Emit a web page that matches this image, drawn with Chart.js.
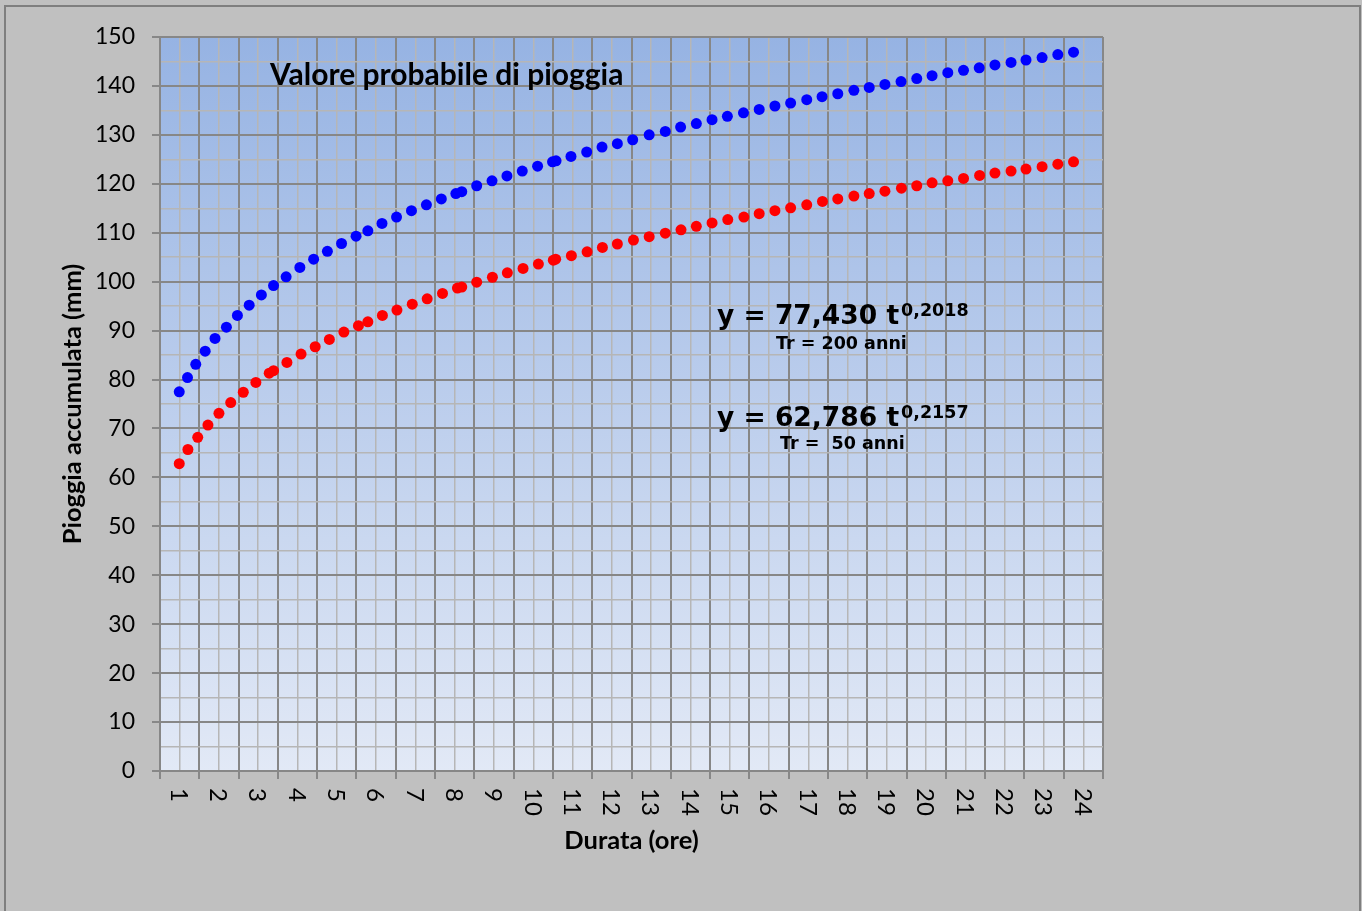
<!DOCTYPE html>
<html lang="it">
<head>
<meta charset="utf-8">
<title>Valore probabile di pioggia</title>
<script src="https://cdn.jsdelivr.net/npm/chart.js@4.4.1/dist/chart.umd.min.js"></script>
<style>
    html, body { margin: 0; padding: 0; background: #c0c0c0; }
    #wrap { width: 1367px; height: 911px; }
</style>
</head>
<body>
<div id="wrap"><canvas id="pioggiaChart" width="1367" height="911"></canvas></div>
<script>
const hourLabels = ["1", "2", "3", "4", "5", "6", "7", "8", "9", "10", "11", "12",
    "13", "14", "15", "16", "17", "18", "19", "20", "21", "22", "23", "24"];

// Tr = 200 anni
const blueHours = [0.99, 1.2, 1.41, 1.65, 1.9, 2.19, 2.47, 2.77, 3.08, 3.39, 3.71, 4.06, 4.41, 4.76, 5.12, 5.49,
    5.79, 6.15, 6.52, 6.9, 7.28, 7.66, 8.03, 8.18, 8.56, 8.95, 9.33, 9.72, 10.11, 10.49, 10.58, 10.96,
    11.36, 11.75, 12.14, 12.53, 12.95, 13.36, 13.75, 14.15, 14.55, 14.94, 15.35, 15.75, 16.15, 16.55, 16.96, 17.35,
    17.75, 18.16, 18.55, 18.95, 19.36, 19.76, 20.15, 20.55, 20.95, 21.35, 21.75, 22.16, 22.54, 22.95, 23.35, 23.75];
const blueValues = [77.5, 80.4, 83.1, 85.8, 88.4, 90.7, 93.1, 95.2, 97.3, 99.2, 101.0, 102.9, 104.6, 106.2, 107.8, 109.3,
    110.4, 111.9, 113.2, 114.5, 115.7, 116.9, 118.0, 118.4, 119.6, 120.6, 121.6, 122.6, 123.6, 124.5, 124.7, 125.6,
    126.5, 127.5, 128.2, 129.0, 130.0, 130.7, 131.6, 132.3, 133.1, 133.8, 134.5, 135.2, 135.9, 136.5, 137.2, 137.8,
    138.4, 139.1, 139.7, 140.3, 140.9, 141.5, 142.1, 142.7, 143.2, 143.7, 144.3, 144.8, 145.3, 145.8, 146.4, 146.9];

// Tr = 50 anni
const redHours = [0.99, 1.21, 1.46, 1.72, 2.0, 2.3, 2.62, 2.94, 3.28, 3.39, 3.73, 4.09, 4.45, 4.81, 5.18, 5.55,
    5.79, 6.16, 6.53, 6.92, 7.3, 7.69, 8.07, 8.18, 8.56, 8.96, 9.34, 9.74, 10.13, 10.51, 10.57, 10.97,
    11.37, 11.76, 12.14, 12.55, 12.95, 13.36, 13.76, 14.15, 14.55, 14.95, 15.36, 15.75, 16.15, 16.55, 16.96, 17.36,
    17.75, 18.16, 18.55, 18.95, 19.37, 19.76, 20.15, 20.55, 20.95, 21.36, 21.75, 22.16, 22.54, 22.95, 23.35, 23.75];
const redValues = [62.8, 65.7, 68.2, 70.7, 73.1, 75.3, 77.4, 79.4, 81.3, 81.8, 83.5, 85.2, 86.7, 88.2, 89.7, 91.0,
    91.8, 93.1, 94.2, 95.4, 96.5, 97.6, 98.7, 98.9, 99.9, 100.9, 101.8, 102.7, 103.6, 104.4, 104.6, 105.3,
    106.1, 107.0, 107.7, 108.5, 109.2, 109.9, 110.6, 111.3, 112.0, 112.7, 113.2, 113.9, 114.5, 115.1, 115.7, 116.4,
    116.9, 117.5, 118.0, 118.5, 119.1, 119.6, 120.2, 120.6, 121.1, 121.7, 122.2, 122.6, 123.0, 123.5, 124.0, 124.5];

const GRID_MAJOR = "#878787";
const GRID_MINOR = "#b6b6b6";
const CALIBRI_LIKE = "Lato, 'Open Sans', sans-serif";
const VERDANA_LIKE = "'DejaVu Sans', Verdana, sans-serif";

function toPoints(hours, values) {
    return hours.map((h, i) => ({ x: h, y: values[i] }));
}

// frame, grey background and plot gradient
const backgroundPlugin = {
    id: "background",
    beforeDraw(chart) {
        const { ctx, chartArea } = chart;
        ctx.save();
        ctx.fillStyle = "#ffffff";
        ctx.fillRect(0, 0, chart.width, chart.height);
        ctx.fillStyle = "#c0c0c0";
        ctx.fillRect(0, 0, 1362, chart.height);
        ctx.strokeStyle = "#7f7f7f";
        ctx.lineWidth = 2;
        ctx.strokeRect(5, 6, 1355, chart.height + 10);

        const grad = ctx.createLinearGradient(0, chartArea.top, 0, chartArea.bottom);
        grad.addColorStop(0, "#96b3e3");
        grad.addColorStop(1, "#e2e9f6");
        ctx.fillStyle = grad;
        ctx.fillRect(chartArea.left, chartArea.top, chartArea.right - chartArea.left, chartArea.bottom - chartArea.top);
        ctx.restore();
    }
};

// x labels rotated clockwise, title and equations
const textPlugin = {
    id: "texts",
    afterDraw(chart) {
        const { ctx } = chart;
        const xScale = chart.scales.x;
        ctx.save();
        ctx.fillStyle = "#000000";

        ctx.font = "24px " + CALIBRI_LIKE;
        ctx.textAlign = "left";
        ctx.textBaseline = "middle";
        hourLabels.forEach((label, i) => {
            const px = xScale.getPixelForValue(i + 1);
            ctx.save();
            ctx.translate(px - 1, chart.chartArea.bottom + 17);
            ctx.rotate(Math.PI / 2);
            ctx.fillText(label, 0, 0);
            ctx.restore();
        });

        ctx.textBaseline = "alphabetic";
        ctx.font = "bold 30px " + CALIBRI_LIKE;
        ctx.fillText("Valore probabile di pioggia", 270, 85);

        drawEquation(ctx, "y = 77,430 t", "0,2018", 717, 324);
        ctx.font = "bold 17.5px " + VERDANA_LIKE;
        ctx.fillText("Tr = 200 anni", 776, 349);

        drawEquation(ctx, "y = 62,786 t", "0,2157", 717, 426);
        ctx.font = "bold 17.5px " + VERDANA_LIKE;
        ctx.fillText("Tr =  50 anni", 780, 449);
        ctx.restore();
    }
};

function drawEquation(ctx, main, exponent, x, y) {
    ctx.font = "bold 26.5px " + VERDANA_LIKE;
    ctx.fillText(main, x, y);
    const w = ctx.measureText(main).width;
    ctx.font = "bold 17.5px " + VERDANA_LIKE;
    ctx.fillText(exponent, x + w + 2, y - 8);
}

new Chart(document.getElementById("pioggiaChart"), {
    type: "scatter",
    data: {
        datasets: [
            {
                label: "Tr = 200 anni",
                data: toPoints(blueHours, blueValues),
                backgroundColor: "#0000ff",
                borderWidth: 0,
                pointRadius: 5.5,
                pointHoverRadius: 5.5
            },
            {
                label: "Tr = 50 anni",
                data: toPoints(redHours, redValues),
                backgroundColor: "#ff0000",
                borderWidth: 0,
                pointRadius: 5.5,
                pointHoverRadius: 5.5
            }
        ]
    },
    options: {
        responsive: false,
        animation: false,
        layout: {
            padding: { left: 0, top: 37, right: 264, bottom: 0 }
        },
        plugins: {
            legend: { display: false },
            tooltip: { enabled: false }
        },
        scales: {
            x: {
                type: "linear",
                min: 0.5,
                max: 24.5,
                afterFit(scale) { scale.height = 140; },
                ticks: { stepSize: 0.5, display: false },
                border: { color: GRID_MAJOR, width: 2 },
                grid: {
                    tickLength: 8,
                    color: c => (c.tick && c.tick.value % 1 !== 0) ? GRID_MAJOR : GRID_MINOR,
                    lineWidth: c => (c.tick && c.tick.value % 1 !== 0) ? 2 : 1.5,
                    tickColor: c => (c.tick && c.tick.value % 1 !== 0) ? GRID_MAJOR : "rgba(0,0,0,0)",
                    tickWidth: 2
                },
                title: {
                    display: true,
                    text: "Durata (ore)",
                    color: "#000000",
                    font: { family: CALIBRI_LIKE, size: 25.5, weight: "bold" },
                    padding: { top: 0, bottom: 55 }
                }
            },
            y: {
                min: 0,
                max: 150,
                afterFit(scale) { scale.width = 160; },
                ticks: {
                    stepSize: 5,
                    autoSkip: false,
                    padding: 17,
                    color: "#000000",
                    font: { family: CALIBRI_LIKE, size: 23 },
                    callback: v => (v % 10 === 0 ? String(v) : "")
                },
                border: { color: GRID_MAJOR, width: 2 },
                grid: {
                    tickLength: 8,
                    color: c => (c.tick && c.tick.value % 10 === 0) ? GRID_MAJOR : GRID_MINOR,
                    lineWidth: c => (c.tick && c.tick.value % 10 === 0) ? 2 : 1.5,
                    tickColor: c => (c.tick && c.tick.value % 10 === 0) ? GRID_MAJOR : "rgba(0,0,0,0)",
                    tickWidth: 2
                },
                title: {
                    display: true,
                    text: "Pioggia accumulata (mm)",
                    color: "#000000",
                    font: { family: CALIBRI_LIKE, size: 25.5, weight: "bold" },
                    padding: { top: 57, bottom: 0 }
                }
            }
        }
    },
    plugins: [backgroundPlugin, textPlugin]
});
</script>
</body>
</html>
